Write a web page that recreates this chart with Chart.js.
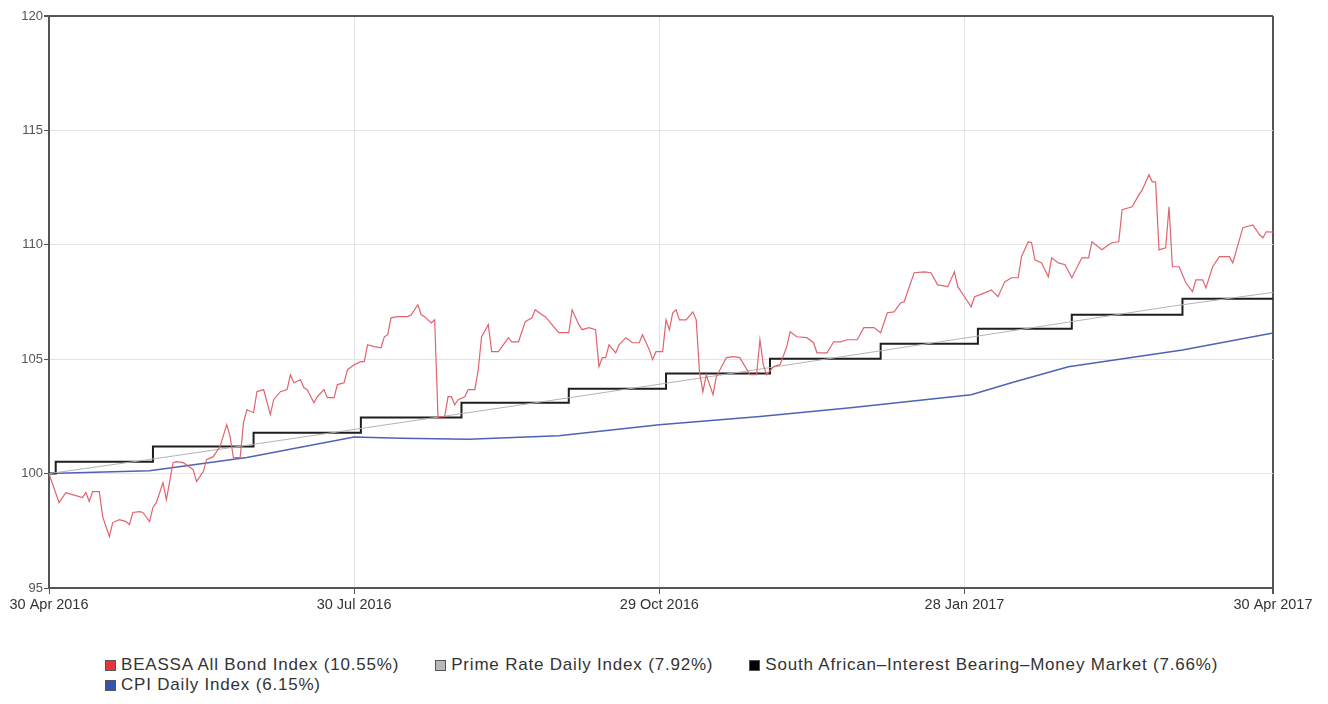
<!DOCTYPE html>
<html lang="en">
<head>
<meta charset="utf-8">
<title>Index Performance</title>
<script src="https://cdn.jsdelivr.net/npm/chart.js@4.4.1/dist/chart.umd.min.js"></script>
<style>
  body {
    margin: 0;
    background: #fff;
    font-family: 'Liberation Sans', Arial, sans-serif;
  }

  #wrap {
    position: relative;
    width: 1328px;
    height: 704px;
  }

  #chartBox {
    position: absolute;
    left: 0;
    top: 0;
    width: 1328px;
    height: 630px;
  }

  #legend {
    position: absolute;
    left: 105px;
    top: 655px;
    width: 1180px;
    font-size: 17px;
    letter-spacing: 0.8px;
    line-height: 20px;
    color: #333;
  }

  .item {
    display: inline-block;
    margin-right: 36px;
    white-space: nowrap;
  }

  .box {
    display: inline-block;
    width: 9px;
    height: 9px;
    margin-right: 5px;
    border: 1px solid;
    vertical-align: -1px;
  }
</style>
</head>

<body>
<div id="wrap">
  <div id="chartBox"><canvas id="myChart"></canvas></div>
  <div id="legend"></div>
</div>

<script>
  // x positions are days since 30 Apr 2016
  const tickDays = [0, 91, 182, 273, 365];
  const tickLabels = ["30 Apr 2016", "30 Jul 2016", "29 Oct 2016", "28 Jan 2017", "30 Apr 2017"];

  const seriesNames = [
    "BEASSA All Bond Index (10.55%)",
    "Prime Rate Daily Index (7.92%)",
    "South African\u2013Interest Bearing\u2013Money Market (7.66%)",
    "CPI Daily Index (6.15%)"
  ];

  const bondDays = [0, 3, 5, 7, 10, 11, 12, 13, 15, 16, 18, 19, 21, 23, 24, 25, 27, 28, 30, 31,
    32, 34, 35, 37, 38, 40, 41, 43, 44, 46, 47, 49, 51, 53, 54, 55, 57, 58, 59, 61,
    62, 64, 66, 67, 69, 71, 72, 73, 75, 76, 77, 79, 80, 82, 83, 85, 86, 88, 89, 91,
    93, 94, 95, 97, 99, 100, 101, 102, 104, 107, 108, 110, 111, 112, 114, 115, 116, 118, 119, 120,
    121, 122, 124, 125, 127, 128, 129, 131, 132, 134, 137, 138, 140, 142, 144, 145, 147, 148, 150, 152,
    155, 156, 158, 159, 161, 163, 164, 165, 166, 167, 169, 170, 172, 174, 176, 177, 179, 180, 181, 183,
    184, 185, 186, 187, 188, 190, 192, 193, 194, 195, 196, 198, 199, 202, 204, 206, 209, 211, 212, 213,
    214, 216, 218, 220, 221, 223, 226, 228, 229, 232, 234, 236, 238, 241, 243, 246, 248, 250, 252, 254,
    255, 258, 261, 263, 265, 268, 270, 271, 273, 275, 276, 279, 281, 283, 285, 287, 289, 290, 292, 293,
    294, 296, 298, 299, 301, 303, 305, 308, 310, 311, 314, 316, 317, 319, 320, 323, 325, 326, 328, 329,
    330, 331, 333, 334, 335, 337, 339, 341, 342, 344, 345, 347, 349, 352, 353, 356, 357, 359, 361, 362,
    363, 365];
  const bondValues = [100.00, 98.73, 99.17, 99.08, 98.95, 99.17, 98.78, 99.21, 99.21, 98.12, 97.25, 97.86, 97.99, 97.90, 97.77, 98.30, 98.34, 98.30, 97.90, 98.52,
    98.73, 99.61, 98.86, 100.48, 100.52, 100.48, 100.39, 100.17, 99.65, 100.09, 100.61, 100.74, 101.18, 102.14, 101.62, 100.70, 100.70, 102.23, 102.79, 102.66,
    103.58, 103.67, 102.58, 103.23, 103.58, 103.67, 104.32, 103.97, 104.10, 103.76, 103.67, 103.10, 103.36, 103.67, 103.32, 103.32, 103.89, 103.97, 104.54, 104.76,
    104.89, 104.89, 105.63, 105.55, 105.50, 105.98, 106.07, 106.81, 106.86, 106.86, 106.94, 107.38, 106.94, 106.86, 106.59, 106.72, 102.49, 102.49, 103.36, 103.36,
    103.01, 103.23, 103.36, 103.67, 103.67, 104.54, 105.98, 106.51, 105.33, 105.33, 105.94, 105.76, 105.76, 106.64, 106.81, 107.16, 106.94, 106.86, 106.51, 106.16,
    106.16, 107.16, 106.51, 106.29, 106.38, 106.29, 104.67, 105.07, 105.07, 105.63, 105.28, 105.63, 105.94, 105.72, 105.72, 106.07, 105.41, 104.98, 105.33, 105.33,
    106.72, 106.29, 107.03, 107.16, 106.72, 106.72, 107.07, 106.72, 104.41, 103.58, 104.32, 103.45, 104.24, 105.07, 105.11, 105.07, 104.32, 104.32, 105.85, 104.76,
    104.32, 104.67, 104.76, 105.55, 106.20, 105.98, 105.94, 105.72, 105.28, 105.28, 105.76, 105.76, 105.85, 105.85, 106.38, 106.38, 106.16, 107.03, 107.07, 107.47,
    107.51, 108.78, 108.82, 108.78, 108.25, 108.17, 108.82, 108.17, 107.73, 107.29, 107.73, 107.90, 108.03, 107.73, 108.38, 108.56, 108.56, 109.48, 110.13, 110.09,
    109.34, 109.21, 108.60, 109.43, 109.21, 109.13, 108.56, 109.43, 109.43, 110.13, 109.78, 110.00, 110.09, 110.13, 111.53, 111.66, 112.18, 112.40, 113.06, 112.75,
    112.75, 109.78, 109.87, 111.66, 109.04, 109.04, 108.34, 107.95, 108.47, 108.47, 108.12, 109.04, 109.48, 109.48, 109.21, 110.74, 110.79, 110.87, 110.44, 110.31,
    110.57, 110.55];

  const primeDays = [0, 31, 61, 92, 123, 153, 184, 214, 245, 276, 304, 335, 365];
  const primeValues = [100.00, 100.64, 101.28, 101.95, 102.62, 103.27, 103.95, 104.61, 105.30, 105.99, 106.62, 107.32, 107.92];

  // money market steps up once a month
  const moneyDays = [0, 2, 31, 61, 93, 123, 155, 184, 215, 248, 277, 305, 338, 365];
  const moneyValues = [100.00, 100.52, 101.18, 101.79, 102.45, 103.10, 103.71, 104.37, 105.02, 105.68, 106.33, 106.94, 107.64, 107.66];

  const cpiDays = [0, 30, 59, 75, 91, 105, 125, 152, 182, 212, 239, 275, 287, 304, 338, 365];
  const cpiValues = [100.00, 100.12, 100.70, 101.15, 101.60, 101.55, 101.50, 101.65, 102.14, 102.50, 102.88, 103.45, 103.97, 104.67, 105.40, 106.15];

  function toPoints(days, values) {
    return days.map((d, i) => ({ x: d, y: values[i] }));
  }

  const frameColor = '#555';
  const gridColor = '#e3e3e3';

  const ctx = document.getElementById("myChart");
  const chart = new Chart(ctx, {
    type: 'line',
    data: {
      datasets: [
        {
          label: seriesNames[0],
          data: toPoints(bondDays, bondValues),
          borderColor: '#e0646e',
          backgroundColor: '#e8323c',
          borderWidth: 1.2
        },
        {
          label: seriesNames[1],
          data: toPoints(primeDays, primeValues),
          borderColor: '#b4b4b4',
          backgroundColor: '#b8b8b8',
          borderWidth: 1
        },
        {
          label: seriesNames[2],
          data: toPoints(moneyDays, moneyValues),
          borderColor: '#1e1e1e',
          backgroundColor: '#000000',
          borderWidth: 2,
          stepped: 'before'
        },
        {
          label: seriesNames[3],
          data: toPoints(cpiDays, cpiValues),
          borderColor: '#4d64b6',
          backgroundColor: '#3552b0',
          borderWidth: 1.5
        }
      ]
    },
    options: {
      responsive: true,
      maintainAspectRatio: false,
      animation: false,
      elements: {
        point: { radius: 0 },
        line: { tension: 0, fill: false }
      },
      layout: {
        padding: { top: 16, right: 55, left: 0, bottom: 0 }
      },
      plugins: {
        legend: { display: false },
        tooltip: { enabled: false }
      },
      scales: {
        x: {
          type: 'linear',
          min: 0,
          max: 365,
          afterBuildTicks: axis => {
            axis.ticks = tickDays.map(v => ({ value: v }));
          },
          afterFit: scale => {
            scale.height = 42;
          },
          ticks: {
            autoSkip: false,
            maxRotation: 0,
            padding: 2,
            color: '#333',
            font: { family: "'Liberation Sans', Arial, sans-serif", size: 14.5 },
            callback: (value, index) => tickLabels[index]
          },
          grid: {
            color: c => (c.tick && c.tick.value === 365 ? frameColor : gridColor),
            lineWidth: c => (c.tick && c.tick.value === 365 ? 2 : 1),
            tickColor: frameColor,
            tickLength: 6
          },
          border: { color: frameColor, width: 2 }
        },
        y: {
          min: 95,
          max: 120,
          afterFit: scale => {
            scale.width = 49;
          },
          ticks: {
            stepSize: 5,
            padding: 1,
            color: '#555',
            font: { family: "'Liberation Sans', Arial, sans-serif", size: 13 }
          },
          grid: {
            color: c => (c.tick && c.tick.value === 120 ? frameColor : gridColor),
            lineWidth: c => (c.tick && c.tick.value === 120 ? 2 : 1),
            tickColor: frameColor,
            tickLength: 5
          },
          border: { color: frameColor, width: 2 }
        }
      }
    }
  });

  // legend below the chart, one swatch per series
  function buildLegend() {
    const legend = document.getElementById("legend");
    chart.data.datasets.forEach(ds => {
      const item = document.createElement("span");
      item.className = "item";
      const box = document.createElement("span");
      box.className = "box";
      box.style.background = ds.backgroundColor;
      box.style.borderColor = '#555';
      item.appendChild(box);
      item.appendChild(document.createTextNode(ds.label));
      legend.appendChild(item);
    });
  }
  buildLegend();
</script>
</body>
</html>
